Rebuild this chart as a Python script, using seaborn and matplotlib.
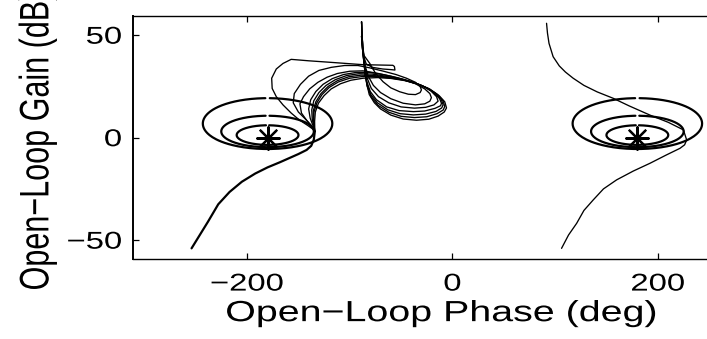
import numpy as np
import pandas as pd
import matplotlib
matplotlib.use("Agg")
import matplotlib.pyplot as plt
import seaborn as sns
from matplotlib.patheffects import AbstractPathEffect
from matplotlib.transforms import Affine2D

sns.set_theme(style="white")
plt.rcParams['font.family'] = ['Liberation Sans', 'DejaVu Sans']
plt.rcParams['axes.unicode_minus'] = True

# ---------------- data (phase in deg, gain in dB) ----------------
X_TICKS = [-200, 0, 200]
Y_TICKS = [-50, 0, 50]
X_LABEL = "Open\u2212Loop Phase (deg)"
Y_LABEL = "Open\u2212Loop Gain (dB)"

# closed-loop magnitude contours (dB) drawn around the critical points
M_CONTOURS_DB = [1, 3, 6]
CRITICAL_PHASES = [-180, 180]

# family of open-loop responses (upper part, loops)
FLAG_X = [-88.5, -88, -87.3, -86.3, -84, -78, -68, -60, -56, -56.5, -58, -87, -120, -140, -157,
          -165, -171.5, -176, -175.5, -171.5, -165, -157, -149, -141, -136, -134]
FLAG_Y = [56.5, 50, 44, 39.5, 36, 34.3, 33.5, 33.2, 33, 34.7, 35.3, 35.6, 36.8, 37.5, 38.2,
          36.2, 33.5, 29, 24, 20, 16, 12, 8.6, 6, 4.2, 3]

L0_X = [-88.5, -88, -87.3, -86, -80.6, -75, -67.6, -60, -51.4, -43, -36, -31.5, -30.2, -31.5, -36,
        -44.8, -55, -67, -80, -92, -105, -118, -130, -140, -148, -154, -155, -150, -143, -137.5, -134]
L0_Y = [56.5, 50, 44, 40, 36.3, 31.5, 27.3, 24.3, 22.4, 21.2, 21, 22, 23.3, 25, 27,
        29, 30.8, 32.4, 34, 35.2, 35.2, 34.3, 32.8, 30, 26, 21.5, 17, 12.5, 9, 6, 3]

L1_X = [-88.5, -88, -87.3, -86.5, -85, -82, -77, -70, -60, -48, -36, -27, -22, -20.5, -22, -27,
        -36, -47, -60, -74, -87, -100, -112, -122, -131, -139, -145, -148.5, -147, -142, -137, -134]
L1_Y = [56.5, 50, 44, 40, 35, 30, 25.5, 22, 19, 16.8, 16, 16.5, 17.8, 19.5, 21.5, 23.8,
        26.3, 28.3, 30, 31.5, 32.6, 32.4, 31.3, 29.5, 27, 23.8, 20, 16.5, 12, 8.5, 5.5, 3]

L2_X = [-88.5, -88, -87.3, -86.5, -85.2, -83, -79, -72, -62, -50, -37, -26, -18, -14, -15.5, -21,
        -30, -41, -54, -68, -81, -94, -106, -117, -126, -133, -138, -140, -138.5, -135.5, -134]
L2_Y = [56.5, 50, 44, 40, 34.5, 29, 24, 20, 17, 15, 14.4, 14.8, 16, 17.8, 20, 22.8,
        25.5, 27.5, 29.3, 30.8, 31.9, 31.8, 30.8, 28.8, 26, 22.5, 18.5, 14, 9.5, 5.5, 3]

L3_X = [-88.5, -88, -87.3, -86.3, -85.2, -83.5, -80, -74, -64, -52, -38, -27, -17, -11.5, -10.7, -12.5,
        -18, -27, -38, -51, -65, -78, -91, -103, -114, -123, -130, -135, -137, -136.5, -135, -134]
L3_Y = [49.5, 46, 42, 37, 32, 27.5, 22.5, 18.5, 15, 13.2, 12.7, 13, 14.3, 15.6, 16.8, 19,
        22, 24.8, 27, 28.7, 30, 31, 31.2, 30.3, 28.3, 25.5, 22, 18, 13.5, 9, 5.5, 3]

L4_X = [-88.5, -88, -87.3, -86.2, -85, -83.3, -79.5, -73, -63, -51, -38, -26, -16, -10.5, -9.1, -10.8,
        -16, -25, -36, -49, -63, -76, -89, -101, -112, -121, -128, -133, -135.5, -135.5, -134.5, -134]
L4_Y = [49.5, 46, 42, 37, 31.5, 26, 21, 17, 13.6, 11.7, 11.1, 11.5, 12.8, 14.5, 16, 18.5,
        21.5, 24.3, 26.5, 28.3, 29.5, 30.3, 30.5, 29.7, 27.8, 25, 21.5, 17.5, 13, 8.5, 5, 3]

L5_X = [-88.5, -88, -87.3, -86, -84.8, -83, -79, -72.5, -62, -50, -37, -25, -15, -9, -7.5, -9.2,
        -14.5, -23.5, -34.5, -47.5, -61.5, -75, -88, -100, -111, -120, -127, -132, -134.8, -135, -134.5, -134]
L5_Y = [49.5, 46, 42, 36.5, 31, 25, 19.8, 15.8, 12.4, 10.4, 9.8, 10.2, 11.7, 13.5, 15.2, 18,
        21, 24, 26.3, 28.1, 29.2, 29.8, 29.8, 29, 27.2, 24.5, 21, 17, 12.5, 8, 5, 3]

L6_X = [-88.5, -88, -87.3, -85.8, -84.5, -83.5, -81, -76, -70, -60, -48, -35, -23, -14, -8, -5.8,
        -7.5, -13, -22, -33, -46, -60, -73, -87, -99, -109, -118, -125, -130.5, -133.5, -134.2, -134]
L6_Y = [49.5, 46, 42, 36, 30, 26.5, 21, 17, 14, 11, 9.1, 8.5, 9, 10.5, 12.5, 14.5,
        17.5, 20.5, 23.7, 26, 27.8, 28.9, 29.3, 29, 28, 26.3, 23.8, 20.5, 16.8, 12.5, 8, 3]

# shared lower branch of the family
TAIL_X = [-134, -135, -137.5, -142, -150, -159, -168, -180, -192, -205, -217, -228, -238, -246, -254]
TAIL_Y = [3, -1, -4, -6, -8, -10, -12, -14.5, -17.5, -21.5, -26.5, -32.5, -41, -47.5, -54]

# response wrapped to the right-hand critical point
RIGHT_X = [91.6, 92.5, 94, 98, 104, 110, 117.5, 128, 141, 156.5, 172, 192.3, 210, 224.8, 228, 226,
           221.5, 208, 192.3, 176, 159.8, 147, 137, 128, 120.9, 113, 106.2]
RIGHT_Y = [55.8, 51, 46, 39.5, 35, 32, 29, 25.5, 22.3, 19.2, 15.5, 11, 7.5, 3.8, -1.1, -3.5,
           -5.2, -8.5, -12.5, -16.3, -20.6, -25, -30.4, -35.5, -41.8, -47.5, -54]

FAMILY = {"flag": (FLAG_X, FLAG_Y), "L0": (L0_X, L0_Y), "L1": (L1_X, L1_Y), "L2": (L2_X, L2_Y),
          "L3": (L3_X, L3_Y), "L4": (L4_X, L4_Y), "L5": (L5_X, L5_Y), "L6": (L6_X, L6_Y),
          "right": (RIGHT_X, RIGHT_Y)}

rows = []
for name, (xs, ys) in FAMILY.items():
    for i, (x, y) in enumerate(zip(xs, ys)):
        rows.append({"curve": name, "order": i, "phase": x, "gain": y})
df = pd.DataFrame(rows)
tail_df = pd.DataFrame({"curve": "tail", "phase": TAIL_X, "gain": TAIL_Y})

# M-contours: |L/(1+L)| = M  ->  circle in L-plane
cont_rows = []
for crit in CRITICAL_PHASES:
    for mdb in M_CONTOURS_DB:
        M = 10 ** (mdb / 20)
        c = -M**2 / (M**2 - 1)
        r = M / (M**2 - 1)
        th = np.linspace(np.pi + 0.08, 3 * np.pi - 0.08, 400)
        L = c + r * np.exp(1j * th)
        ph = np.mod(np.angle(L, deg=True), 360) - 360 + (crit + 180)
        g = 20 * np.log10(np.abs(L))
        for i, (a, b) in enumerate(zip(ph, g)):
            cont_rows.append({"curve": f"{crit}_{mdb}", "order": i, "phase": a, "gain": b})
cont_df = pd.DataFrame(cont_rows)
crit_df = pd.DataFrame({"phase": CRITICAL_PHASES, "gain": [0, 0]})


# the reference text is horizontally widened; draw real text with a widening effect
class Widen(AbstractPathEffect):
    def __init__(self, factor, along="x", anchor="center"):
        super().__init__()
        self.f, self.along, self.anchor = factor, along, anchor

    def draw_path(self, renderer, gc, tpath, affine, rgbFace=None):
        ext = tpath.get_extents()
        if self.along == "x":
            a = {"center": (ext.x0 + ext.x1) / 2, "right": ext.x1, "left": ext.x0}[self.anchor]
            t = Affine2D().translate(-a, 0).scale(self.f, 1).translate(a, 0)
        else:
            a = (ext.y0 + ext.y1) / 2
            t = Affine2D().translate(0, -a).scale(1, self.f).translate(0, a)
        renderer.draw_path(gc, tpath, t + affine, rgbFace)


SX = 1.35

# ---------------- figure ----------------
fig = plt.figure(figsize=(7.07, 3.39), dpi=100)
ax = fig.add_axes([133 / 707, 80 / 339, 1 - 133 / 707, (259 - 15.7) / 339])

sns.lineplot(data=cont_df, x="phase", y="gain", units="curve", estimator=None, sort=False,
             color="black", lw=1.6, ax=ax)
sns.lineplot(data=df, x="phase", y="gain", units="curve", estimator=None, sort=False,
             color="black", lw=0.95, ax=ax)
sns.lineplot(data=tail_df, x="phase", y="gain", units="curve", estimator=None, sort=False,
             color="black", lw=1.6, ax=ax)
sns.scatterplot(data=crit_df, x="phase", y="gain", marker=(8, 2, 0), s=260, color="black",
                linewidth=1.6, ax=ax, zorder=5)

ax.set_xlim(-311, 247.8)
ax.set_ylim(-59.2, 59.5)
ax.set_xticks(X_TICKS)
ax.set_yticks(Y_TICKS)
ax.tick_params(direction="in", length=4, width=0.9, colors="black", labelsize=17.5,
               top=True, bottom=True, left=True, right=False)
ax.tick_params(axis="y", pad=8)
ax.tick_params(axis="x", pad=10.5)
for s in ["top", "bottom"]:
    ax.spines[s].set_color("black")
    ax.spines[s].set_linewidth(1.0)
ax.spines["left"].set_color("black")
ax.spines["left"].set_linewidth(1.4)
ax.spines["right"].set_visible(False)

for lab in ax.get_xticklabels():
    lab.set_path_effects([Widen(SX, "x", "center")])
for lab in ax.get_yticklabels():
    lab.set_path_effects([Widen(SX, "x", "right")])

ax.set_xlabel(X_LABEL, fontsize=21, color="black")
ax.set_ylabel(Y_LABEL, fontsize=22, color="black")
ax.xaxis.label.set_path_effects([Widen(SX, "x", "center")])
ax.yaxis.label.set_path_effects([Widen(SX, "y")])
ax.xaxis.set_label_coords(0.537, -0.165)
ax.yaxis.set_label_coords(-0.14, 0.485)

fig.savefig("out.png", dpi=100)
